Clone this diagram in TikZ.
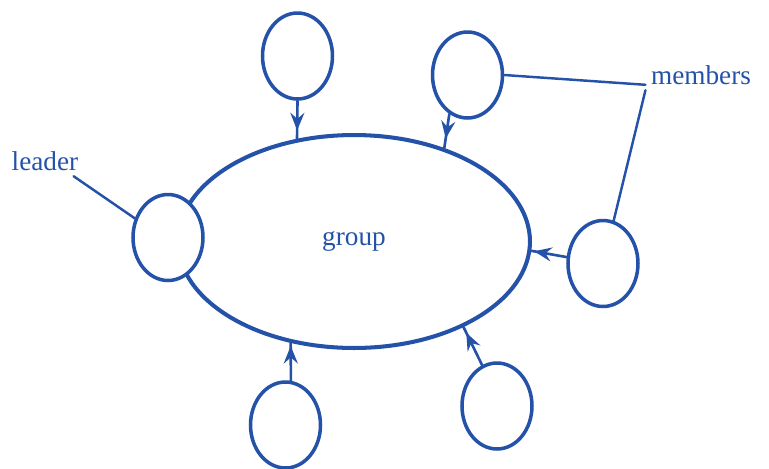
\documentclass[tikz,border=0pt]{standalone}
\usepackage{fontspec}
\setmainfont{Liberation Serif}
\usepackage{xcolor}
\definecolor{inkblue}{RGB}{36,82,168}
\usepackage{tikz}
\usetikzlibrary{shapes.geometric}
\usetikzlibrary{decorations.markings}
\usetikzlibrary{arrows.meta}
\tikzset{>=Stealth}
\tikzset{
  member/.style={ellipse, draw=inkblue, fill=white, line width=2pt,
    minimum width=1.4cm, minimum height=1.72cm, inner sep=0pt},
  flowin/.style={line width=1.5pt, inkblue,
    decoration={markings, mark=at position #1 with {\arrow{Stealth[length=10pt,width=8pt,inset=3.5pt]}}},
    postaction={decorate}},
  flowin/.default=0.85,
  lbltext/.style={text=inkblue, inner sep=3pt, font=\fontsize{15.5}{18}\selectfont},
  lblline/.style={line width=1.4pt, inkblue}
}

\begin{document}
\begin{tikzpicture}[x=0.02cm, y=-0.02cm, line cap=round]
\useasboundingbox (0,0) rectangle (769,468);

% the group and its members
\node[ellipse, draw=inkblue, line width=2.3pt, minimum width=7.04cm, minimum height=4.26cm,
  text=inkblue, font=\fontsize{15.5}{18}\selectfont] (group) at (354,241.5) {group};
\node[member] (ldr) at (168,237.5) {};
\node[member] (tp) at (297.5,56) {};
\node[member] (tr) at (467.5,75) {};
\node[member] (rc) at (603,263.5) {};
\node[member] (bl) at (285.5,425) {};
\node[member] (br) at (497,406) {};

% labels
\node[lbltext] (ldrtxt) at (45,161) {leader};
\node[lbltext] (memtxt) at (701,75) {members};

% arrows into the group
\draw[flowin=0.78] (tp.south) -- (group.119);
\draw[flowin=0.72] (tr.-115) -- (group.46);
\draw[flowin=0.92] (rc.170) -- (group.-3);
\draw[flowin=0.92] (bl.83) -- (group.-122);
\draw[flowin=0.85] (br.110) -- (group.-38);

% label lines
\draw[lblline] (ldrtxt.-28) -- (ldr.150);
\draw[lblline] (tr.east) -- (memtxt.190);
\draw[lblline] (memtxt.south west) -- (rc.76);
\end{tikzpicture}
\end{document}
